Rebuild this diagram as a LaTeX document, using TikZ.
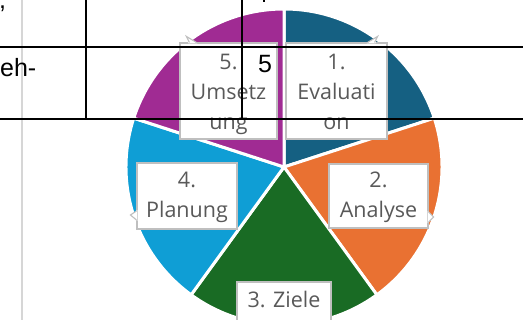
\documentclass[tikz,border=0pt]{standalone}
\usepackage{fontspec}
\setmainfont{Open Sans}
\newfontfamily\arialfont{Liberation Sans}
\usetikzlibrary{calc}
\definecolor{cteal}{HTML}{156082}
\definecolor{corange}{HTML}{E97132}
\definecolor{cgreen}{HTML}{196B24}
\definecolor{cblue}{HTML}{0F9ED5}
\definecolor{cpurple}{HTML}{A02B93}
\definecolor{labeltext}{HTML}{595959}
\definecolor{labelborder}{HTML}{BFBFBF}
\definecolor{gridgray}{HTML}{D6D6D6}
\tikzset{
  slice/.style={draw=white, line width=3pt, line join=miter},
  labelbox/.style={rectangle, fill=white, draw=labelborder, line width=1.1pt, inner sep=0pt},
  labelline/.style={anchor=base, inner sep=0pt, text=labeltext, font=\fontsize{21.5}{26}\selectfont},
  pointerfill/.style={fill=white},
  pointeredge/.style={draw=labelborder, line width=1.1pt, line join=miter},
  tableline/.style={draw=black, line width=1.3pt},
  tabletext/.style={anchor=base, inner sep=0pt, text=black, font=\arialfont\fontsize{25}{30}\selectfont},
}
\begin{document}
\begin{tikzpicture}[x=1pt,y=1pt]
\useasboundingbox (0,0) rectangle (523,320);
\clip (0,0) rectangle (523,320);
\fill[white] (0,0) rectangle (523,320);
% pie
\coordinate (C) at (284,153);
\def\R{158}
\fill[cteal, slice]   (C) -- ++(18:\R)   arc[start angle=18,   end angle=90,  radius=\R] -- cycle;
\fill[corange, slice] (C) -- ++(-54:\R)  arc[start angle=-54,  end angle=18,  radius=\R] -- cycle;
\fill[cgreen, slice]  (C) -- ++(-126:\R) arc[start angle=-126, end angle=-54, radius=\R] -- cycle;
\fill[cblue, slice]   (C) -- ++(162:\R)  arc[start angle=162,  end angle=234, radius=\R] -- cycle;
\fill[cpurple, slice] (C) -- ++(90:\R)   arc[start angle=90,   end angle=162, radius=\R] -- cycle;
% label boxes
\node[labelbox, minimum width=101pt, minimum height=96pt] (b1) at (336.5,229) {};
\node[labelbox, minimum width=97pt,  minimum height=96pt] (b5) at (228.5,229) {};
\node[labelbox, minimum width=100pt, minimum height=66pt] (b4) at (187,124) {};
\node[labelbox, minimum width=99pt,  minimum height=64pt] (b2) at (378.5,124) {};
\node[labelbox, minimum width=94pt,  minimum height=42pt] (b3) at (284,17) {};
% callout pointers
\fill[pointerfill] ($(b5.north west)+(9,-1)$) -- ($(b5.north west)+(7,6)$) -- ($(b5.north west)+(18,-1)$) -- cycle;
\draw[pointeredge] ($(b5.north west)+(10,0)$) -- ($(b5.north west)+(7,6)$) -- ($(b5.north west)+(17,0)$);
\fill[pointerfill] ($(b1.north east)+(-21,-1)$) -- ($(b1.north east)+(-10,6)$) -- ($(b1.north east)+(-12,-1)$) -- cycle;
\draw[pointeredge] ($(b1.north east)+(-20,0)$) -- ($(b1.north east)+(-10,6)$) -- ($(b1.north east)+(-13,0)$);
\fill[pointerfill] ($(b4.west)+(1,-14)$) -- ($(b4.west)+(-6,-19)$) -- ($(b4.west)+(1,-25)$) -- cycle;
\draw[pointeredge] ($(b4.west)+(0,-15)$) -- ($(b4.west)+(-6,-19)$) -- ($(b4.west)+(0,-24)$);
\fill[pointerfill] ($(b2.east)+(-1,-15)$) -- ($(b2.east)+(5,-21)$) -- ($(b2.east)+(-1,-27)$) -- cycle;
\draw[pointeredge] ($(b2.east)+(0,-16)$) -- ($(b2.east)+(5,-21)$) -- ($(b2.east)+(0,-26)$);
% label texts
\node[labelline] (t1a) at (336.5,250) {1.};
\node[labelline] (t1b) at (336.5,220) {Evaluati};
\node[labelline] (t1c) at (336.5,190) {on};
\node[labelline] (t5a) at (228.5,250) {5.};
\node[labelline] (t5b) at (228.5,220) {Umsetz};
\node[labelline] (t5c) at (228.5,190) {ung};
\node[labelline] (t4a) at (187,132) {4.};
\node[labelline] (t4b) at (187,102) {Planung};
\node[labelline] (t2a) at (378.5,132) {2.};
\node[labelline] (t2b) at (378.5,102) {Analyse};
\node[labelline] (t3a) at (284,12) {3. Ziele};
% background table lines (drawn on top)
\draw[draw=gridgray, line width=1.5pt] (22,320) -- (22,0);
\draw[tableline] (0,273) -- (523,273);
\draw[tableline] (0,201) -- (523,201);
\draw[tableline] (86,320) -- (86,201);
\draw[tableline] (242,320) -- (242,201);
\fill[black] (262.5,318) rectangle (264.5,321);
\node[tabletext] (five) at (265,247) {5};
\node[tabletext, anchor=base west] (ehtext) at (0,243) {eh-};
\node[tabletext, anchor=base west] (comma) at (-1,311) {,};
\end{tikzpicture}
\end{document}
